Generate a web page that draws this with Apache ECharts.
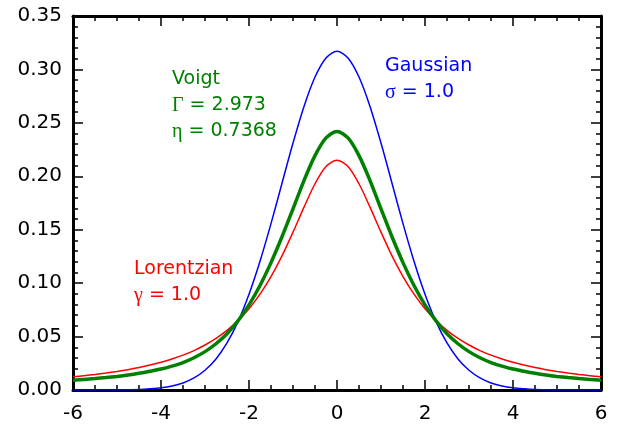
<!DOCTYPE html>
<html><head><meta charset="utf-8">
<script src="https://cdn.jsdelivr.net/npm/echarts@6/dist/echarts.min.js"></script>
<style>html,body{margin:0;padding:0;background:#fff}#c{width:617px;height:424px}</style>
</head><body><div id="c"></div>
<script>
const xs = [-6,-5.75,-5.5,-5.25,-5,-4.75,-4.5,-4.25,-4,-3.75,-3.5,-3.25,-3,-2.75,-2.5,-2.25,-2,-1.75,-1.5,-1.25,-1,-0.75,-0.5,-0.25,
  0,0.25,0.5,0.75,1,1.25,1.5,1.75,2,2.25,2.5,2.75,3,3.25,3.5,3.75,4,4.25,4.5,4.75,5,5.25,5.5,5.75,6];
const gaussian = [0.0000,0.0000,0.0000,0.0001,0.0001,0.0003,0.0005,0.0011,0.0020,0.0037,0.0066,0.0113,0.0185,0.0291,0.0440,0.0640,0.0896,0.1205,0.1557,0.1935,0.2311,0.2654,0.2929,0.3108,
  0.3170,0.3108,0.2929,0.2654,0.2311,0.1935,0.1557,0.1205,0.0896,0.0640,0.0440,0.0291,0.0185,0.0113,0.0066,0.0037,0.0020,0.0011,0.0005,0.0003,0.0001,0.0001,0.0000,0.0000,0.0000];
const lorentzian = [0.0123,0.0134,0.0145,0.0158,0.0173,0.0190,0.0210,0.0233,0.0259,0.0290,0.0326,0.0369,0.0421,0.0483,0.0558,0.0650,0.0761,0.0897,0.1061,0.1255,0.1477,0.1711,0.1930,0.2091,
  0.2151,0.2091,0.1930,0.1711,0.1477,0.1255,0.1061,0.0897,0.0761,0.0650,0.0558,0.0483,0.0421,0.0369,0.0326,0.0290,0.0259,0.0233,0.0210,0.0190,0.0173,0.0158,0.0145,0.0134,0.0123];
const voigt = [0.0091,0.0099,0.0107,0.0116,0.0127,0.0140,0.0156,0.0175,0.0196,0.0224,0.0257,0.0302,0.0359,0.0433,0.0527,0.0647,0.0797,0.0978,0.1192,0.1434,0.1696,0.1960,0.2193,0.2359,
  0.2419,0.2359,0.2193,0.1960,0.1696,0.1434,0.1192,0.0978,0.0797,0.0647,0.0527,0.0433,0.0359,0.0302,0.0257,0.0224,0.0196,0.0175,0.0156,0.0140,0.0127,0.0116,0.0107,0.0099,0.0091];

const font = '"DejaVu Sans", "Liberation Sans", Arial, sans-serif';
const serifFont = '"Liberation Serif", "DejaVu Serif", serif';
const zip = arr => xs.map((x,i)=>[x,arr[i]]);
const chart = echarts.init(document.getElementById('c'), null, {renderer:'canvas'});
const base = {
  axisLine:{show:true, onZero:false, lineStyle:{color:'#000', width:3}},
  axisTick:{show:true, inside:true, length:10, lineStyle:{color:'#000', width:1.5}},
  splitLine:{show:false}
};
const xa = (pos, show) => Object.assign({}, base, {
  type:'value', position:pos, min:-6, max:6, interval:2,
  minorTick:{show:true, splitNumber:4, length:5, lineStyle:{color:'#000', width:1.5}},
  axisLabel:{show:show, color:'#000', fontFamily:font, fontSize:20, margin:14}
});
const ya = (pos, show) => Object.assign({}, base, {
  type:'value', position:pos, min:0, max:0.35, interval:0.05,
  minorTick:{show:true, splitNumber:5, length:5, lineStyle:{color:'#000', width:1.5}},
  axisLabel:{show:show, color:'#000', fontFamily:font, fontSize:20, margin:11, formatter:v=>v.toFixed(2)}
});
const label = (left, top, text, color) => ({
  type:'text', left:left, top:top,
  style:{text:text, fill:color,
    rich:{s:{fill:color, fontFamily:serifFont, fontSize:20, lineHeight:26},
          n:{fill:color, fontFamily:font, fontSize:19, lineHeight:26}}}
});
chart.setOption({
  animation:false,
  grid:{left:73, right:16, top:16, bottom:31, containLabel:false},
  xAxis:[xa('bottom', true), xa('top', false)],
  yAxis:[ya('left', true), ya('right', false)],
  series:[
    {type:'line', data:zip(gaussian), smooth:0.3, showSymbol:false, lineStyle:{color:'#0000ff', width:1.5}, z:2},
    {type:'line', data:zip(lorentzian), smooth:0.3, showSymbol:false, lineStyle:{color:'#ff0000', width:1.5}, z:3},
    {type:'line', data:zip(voigt), smooth:0.3, showSymbol:false, lineStyle:{color:'#008000', width:3.5}, z:4}
  ],
  graphic:[
    label(172, 70, '{n|Voigt}\n{s|Γ}{n| = 2.973}\n{s|η}{n| = 0.7368}', '#008000'),
    label(134, 260, '{n|Lorentzian}\n{s|γ}{n| = 1.0}', '#ff0000'),
    label(385, 57, '{n|Gaussian}\n{s|σ}{n| = 1.0}', '#0000ff')
  ]
});
</script></body></html>
